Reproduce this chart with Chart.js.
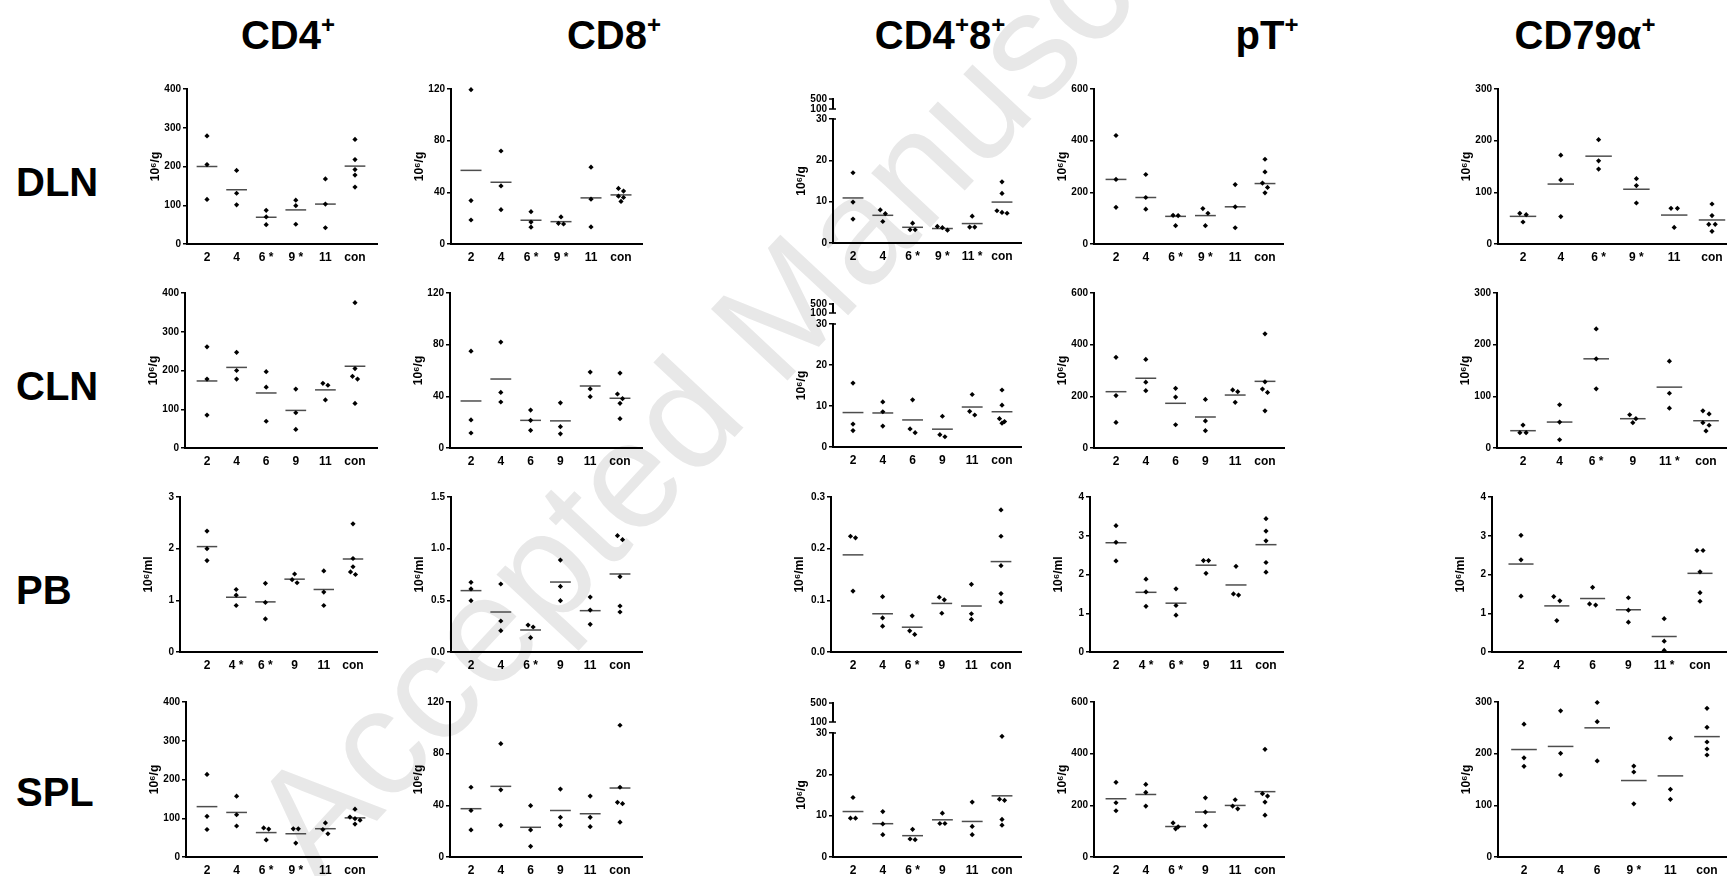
<!DOCTYPE html>
<html>
<head>
<meta charset="utf-8">
<script src="https://cdn.jsdelivr.net/npm/chart.js@4.4.1/dist/chart.umd.min.js"></script>
<style>
  body { margin: 0; width: 1727px; height: 876px; overflow: hidden; background: #fff; position: relative;
         font-family: "Liberation Sans", Arial, sans-serif; }
  canvas { position: absolute; }
  .title, .row { position: absolute; font-weight: bold; font-size: 40px; line-height: 1; white-space: nowrap; color: #000; }
  .title { transform: translateX(-50%); }
  sup { font-size: 0.6em; line-height: 0; vertical-align: 0.66em; }
  #wm { position: absolute; left: 0; top: 0; }
</style>
</head>
<body>
<svg id="wm" width="1727" height="876">
  <text x="318" y="884" transform="rotate(-47 318 884)" font-family="Liberation Sans, Arial, sans-serif"
        font-size="152" fill="#e8e8e8">Accepted Manuscript</text>
</svg>

<div class="title" style="left:288px;top:15px">CD4<sup>+</sup></div>
<div class="title" style="left:614px;top:15px">CD8<sup>+</sup></div>
<div class="title" style="left:940px;top:15px">CD4<sup>+</sup>8<sup>+</sup></div>
<div class="title" style="left:1267px;top:15px">pT<sup>+</sup></div>
<div class="title" style="left:1585px;top:15px">CD79α<sup>+</sup></div>

<div class="row" style="left:16px;top:162px">DLN</div>
<div class="row" style="left:16px;top:366px">CLN</div>
<div class="row" style="left:16px;top:570px">PB</div>
<div class="row" style="left:16px;top:772px">SPL</div>

<script>
// weeks after infection, plus control
const plainTicks = ['2', '4', '6', '9', '11', 'con'];

// ---- DLN ----
const cd4DLN = [[279, 205, 115], [190, 131, 101], [87, 70, 50], [113, 99, 51], [168, 103, 42], [270, 218, 192, 178, 147]];
const cd4DLNMean = [200, 140, 69, 88, 103, 201];
const cd4DLNTicks = ['2', '4', '6 *', '9 *', '11', 'con'];

const cd8DLN = [[119.5, 33.6, 18.6], [72, 45, 26.6], [25, 17, 13], [21, 16, 15.5], [59.5, 34.7, 13.2], [43, 41, 37, 36, 33]];
const cd8DLNMean = [57, 47.8, 18.4, 17.3, 35.7, 38];
const cd8DLNTicks = ['2', '4', '6 *', '9 *', '11', 'con'];

const dpDLN = [[17, 9.9, 5.8], [8, 7.1, 5.2], [4.8, 3.2, 3.2], [4.0, 3.7, 3.1], [6.5, 3.85, 3.85], [14.8, 12, 7.8, 7.4, 7.2]];
const dpDLNMean = [10.9, 6.7, 3.8, 3.5, 4.7, 9.9];
const dpDLNTicks = ['2', '4', '6 *', '9 *', '11 *', 'con'];

const ptDLN = [[420, 250, 142], [269, 180, 135], [111, 110, 71], [137, 119, 71], [230, 144, 63], [328, 279, 236, 219, 198]];
const ptDLNMean = [250, 180, 107, 110, 144, 234];
const ptDLNTicks = ['2', '4', '6 *', '9 *', '11', 'con'];

const cd79DLN = [[59.4, 56.8, 42.6], [172, 124, 53], [202, 161, 145], [126.5, 113, 79.4], [69, 69, 32], [77.4, 55, 38, 38, 24.5]];
const cd79DLNMean = [53.5, 116, 170, 106, 56, 46.5];
const cd79DLNTicks = ['2', '4', '6 *', '9 *', '11', 'con'];

// ---- CLN ----
const cd4CLN = [[261, 178, 85], [247, 200, 178], [197, 157, 69], [152, 91, 48], [167, 162, 124], [375, 205, 185, 178, 115]];
const cd4CLNMean = [173, 208, 142, 97, 150, 211];

const cd8CLN = [[75, 21.7, 11.6], [82, 43, 35.6], [29.4, 21.4, 13.7], [35, 16.5, 11], [58.8, 45.7, 39.7], [58, 41.8, 38.2, 34.6, 22.7]];
const cd8CLNMean = [36.4, 53.4, 21.4, 21, 48, 38.5];

const dpCLN = [[15.6, 5.6, 4.0], [11, 8.6, 5.1], [11.5, 4.4, 3.5], [7.5, 3.0, 2.5], [12.8, 8.7, 7.8], [13.9, 10.2, 6.9, 6.2, 5.8]];
const dpCLNMean = [8.4, 8.3, 6.6, 4.35, 9.75, 8.6];

const ptCLN = [[351, 203, 99], [343, 255, 222], [231, 197, 90], [188, 105, 67], [225, 218, 177], [442, 256, 228, 215, 144]];
const ptCLNMean = [218, 270, 173, 120, 205, 258];

const cd79CLN = [[44.4, 29.6, 29.6], [83.7, 50.2, 16], [230.5, 172.6, 114.6], [64.4, 56.7, 49], [168, 106, 77], [72, 66, 49, 44, 33]];
const cd79CLNMean = [33.5, 50.2, 172.6, 56.7, 117.8, 52.8];
const cd79CLNTicks = ['2', '4', '6 *', '9', '11 *', 'con'];

// ---- PB ----
const cd4PB = [[2.34, 2.0, 1.77], [1.21, 1.1, 0.9], [1.33, 0.96, 0.64], [1.51, 1.4, 1.34], [1.57, 1.16, 0.9], [2.48, 1.81, 1.65, 1.55, 1.5]];
const cd4PBMean = [2.04, 1.06, 0.97, 1.41, 1.21, 1.8];
const cd4PBTicks = ['2', '4 *', '6 *', '9', '11', 'con'];

const cd8PB = [[0.674, 0.61, 0.497], [0.658, 0.3, 0.206], [0.261, 0.242, 0.139], [0.89, 0.635, 0.497], [0.532, 0.406, 0.268], [1.126, 1.087, 0.729, 0.445, 0.387]];
const cd8PBMean = [0.594, 0.387, 0.213, 0.677, 0.4, 0.755];
const cd8PBTicks = ['2', '4', '6 *', '9', '11', 'con'];

const dpPB = [[0.224, 0.221, 0.118], [0.107, 0.066, 0.05], [0.07, 0.041, 0.034], [0.106, 0.101, 0.075], [0.131, 0.074, 0.063], [0.275, 0.224, 0.167, 0.113, 0.097]];
const dpPBMean = [0.188, 0.074, 0.048, 0.094, 0.089, 0.175];
const dpPBTicks = ['2', '4', '6 *', '9', '11', 'con'];

const ptPB = [[3.26, 2.83, 2.35], [1.88, 1.55, 1.18], [1.63, 1.2, 0.95], [2.36, 2.36, 2.03], [2.21, 1.5, 1.47], [3.44, 3.12, 2.87, 2.31, 2.06]];
const ptPBMean = [2.82, 1.54, 1.26, 2.24, 1.73, 2.77];
const ptPBTicks = ['2', '4 *', '6 *', '9', '11', 'con'];

const cd79PB = [[3.01, 2.38, 1.44], [1.43, 1.32, 0.81], [1.67, 1.24, 1.21], [1.4, 1.08, 0.77], [0.86, 0.28, 0.04], [2.62, 2.62, 2.07, 1.53, 1.31]];
const cd79PBMean = [2.27, 1.19, 1.38, 1.09, 0.4, 2.03];
const cd79PBTicks = ['2', '4', '6', '9', '11 *', 'con'];

// ---- SPL ----
const cd4SPL = [[213, 105, 71], [157, 109, 80], [75, 72, 44], [72.6, 72.6, 36], [88, 71, 60], [123.5, 103, 99, 95, 85]];
const cd4SPLMean = [130, 115, 63, 60, 73, 101];
const cd4SPLTicks = ['2', '4', '6 *', '9 *', '11', 'con'];

const cd8SPL = [[54, 36, 21], [87.7, 52, 24.5], [39.7, 21, 8.3], [52.6, 30.7, 24.5], [47.2, 30.7, 23.5], [102, 54, 42.3, 41.3, 27]];
const cd8SPLMean = [37.4, 54.7, 23, 36, 33.5, 53.4];

const dpSPL = [[14.4, 9.4, 9.4], [11, 8, 5.4], [6.7, 4.35, 4.2], [10.6, 8.1, 8.1], [13.3, 7.4, 5.4], [29.2, 14, 13.7, 9.1, 7.7]];
const dpSPLMean = [11, 8.06, 5.16, 9, 8.6, 14.8];
const dpSPLTicks = ['2', '4', '6 *', '9', '11', 'con'];

const ptSPL = [[289, 210, 179], [281, 250, 197], [132, 117, 109], [229, 174, 120.5], [221.6, 197, 186.6], [417, 245, 236, 212.5, 162]];
const ptSPLMean = [225.5, 242, 118, 174, 199.6, 253];
const ptSPLTicks = ['2', '4', '6 *', '9', '11', 'con'];

const cd79SPL = [[257, 192, 175.5], [283, 200.6, 158.7], [299, 262, 186], [176, 164.5, 103], [229.7, 131, 111.6], [287.7, 251, 222.6, 209, 197.4]];
const cd79SPLMean = [208, 214, 250, 148, 157, 233];
const cd79SPLTicks = ['2', '4', '6', '9 *', '11', 'con'];

// broken CD4+8+ axis: labels of the upper segment
const breakTicks = ['500', '100'];

// ---- layout (px in the 1727x876 page) ----
const rowY = [{ top: 89, zero: 244 }, { top: 293, zero: 448 }, { top: 497, zero: 652 }, { top: 702, zero: 857 }];
// [y axis x, axis right end, x of first group, x of "con"]
const colX = [
  [[187, 377, 207, 355], [451, 642, 471, 621], [833, 1021, 853, 1002], [1094, 1283, 1116, 1265], [1498, 1740, 1523, 1712]],
  [[185, 377, 207, 355], [450, 642, 471, 620], [833, 1021, 853, 1002], [1094, 1284, 1116, 1265], [1497, 1740, 1523, 1706]],
  [[180, 377, 207, 353], [451, 642, 471, 620], [831, 1021, 853, 1001], [1090, 1283, 1116, 1266], [1492, 1740, 1521, 1700]],
  [[186, 377, 207, 355], [450, 642, 471, 620], [833, 1021, 853, 1002], [1094, 1284, 1116, 1265], [1498, 1740, 1524, 1707]]
];
// y of the "30" tick and gaps up to "100" / "500" for the broken axes
const breakY = [{ top: 119.3, g100: 10, g500: 20 }, { top: 324.3, g100: 11, g500: 20 }, null, { top: 732.7, g100: 11, g500: 30 }];

const panels = [
  // row, col, values, means, ticks, yMax, step, decimals, unit
  [0, 0, cd4DLN, cd4DLNMean, cd4DLNTicks, 400, 100, 0, 'g'],
  [0, 1, cd8DLN, cd8DLNMean, cd8DLNTicks, 120, 40, 0, 'g'],
  [0, 2, dpDLN, dpDLNMean, dpDLNTicks, 30, 10, 0, 'g'],
  [0, 3, ptDLN, ptDLNMean, ptDLNTicks, 600, 200, 0, 'g'],
  [0, 4, cd79DLN, cd79DLNMean, cd79DLNTicks, 300, 100, 0, 'g'],
  [1, 0, cd4CLN, cd4CLNMean, plainTicks, 400, 100, 0, 'g'],
  [1, 1, cd8CLN, cd8CLNMean, plainTicks, 120, 40, 0, 'g'],
  [1, 2, dpCLN, dpCLNMean, plainTicks, 30, 10, 0, 'g'],
  [1, 3, ptCLN, ptCLNMean, plainTicks, 600, 200, 0, 'g'],
  [1, 4, cd79CLN, cd79CLNMean, cd79CLNTicks, 300, 100, 0, 'g'],
  [2, 0, cd4PB, cd4PBMean, cd4PBTicks, 3, 1, 0, 'ml'],
  [2, 1, cd8PB, cd8PBMean, cd8PBTicks, 1.5, 0.5, 1, 'ml'],
  [2, 2, dpPB, dpPBMean, dpPBTicks, 0.3, 0.1, 1, 'ml'],
  [2, 3, ptPB, ptPBMean, ptPBTicks, 4, 1, 0, 'ml'],
  [2, 4, cd79PB, cd79PBMean, cd79PBTicks, 4, 1, 0, 'ml'],
  [3, 0, cd4SPL, cd4SPLMean, cd4SPLTicks, 400, 100, 0, 'g'],
  [3, 1, cd8SPL, cd8SPLMean, plainTicks, 120, 40, 0, 'g'],
  [3, 2, dpSPL, dpSPLMean, dpSPLTicks, 30, 10, 0, 'g'],
  [3, 3, ptSPL, ptSPLMean, ptSPLTicks, 600, 200, 0, 'g'],
  [3, 4, cd79SPL, cd79SPLMean, cd79SPLTicks, 300, 100, 0, 'g']
];

const FONT = '"Liberation Sans", Arial, sans-serif';

// draws the short upper segment (100-500) of a broken y axis
const axisBreak = {
  id: 'axisBreak',
  afterDraw(chart, args, opts) {
    if (!opts.on) return;
    const { ctx, chartArea } = chart;
    const x = chartArea.left;
    const y100 = chartArea.top - opts.g100;
    const y500 = chartArea.top - opts.g500;
    ctx.save();
    ctx.strokeStyle = '#000';
    ctx.lineWidth = 2;
    ctx.beginPath();
    ctx.moveTo(x, y500 - 1);
    ctx.lineTo(x, y100);
    ctx.stroke();
    ctx.lineWidth = 1.5;
    ctx.beginPath();
    ctx.moveTo(x - 4, y500); ctx.lineTo(x, y500);
    ctx.moveTo(x - 4, y100); ctx.lineTo(x + 3, y100);
    ctx.moveTo(x, chartArea.top); ctx.lineTo(x + 3, chartArea.top);
    ctx.stroke();
    ctx.fillStyle = '#000';
    ctx.font = 'bold 10px ' + FONT;
    ctx.textAlign = 'right';
    ctx.textBaseline = 'middle';
    ctx.fillText(breakTicks[0], x - 6, y500);
    ctx.fillText(breakTicks[1], x - 6, y100);
    ctx.restore();
  }
};

// spread points that would overlap side by side, like the scatter dot plot
function spreadPoints(values, yMax) {
  const thr = yMax * 0.033, d = 0.17, pts = [];
  values.forEach((vals, i) => {
    const s = vals.slice().sort((a, b) => b - a);
    let k = 0;
    while (k < s.length) {
      let j = k + 1;
      while (j < s.length && s[k] - s[j] < thr) j++;
      const n = j - k;
      for (let m = 0; m < n; m++) pts.push({ x: i + (m - (n - 1) / 2) * d, y: s[k + m] });
      k = j;
    }
  });
  return pts;
}

const YW = 46, XH = 26, PR = 4;

panels.forEach(([r, c, vals, means, ticks, yMax, step, dec, unit]) => {
  const [axisX, right, c0, c5] = colX[r][c];
  const brk = (c === 2 && breakY[r]) ? breakY[r] : null;
  const topY = brk ? brk.top : rowY[r].top;
  const zeroY = rowY[r].zero;
  const padTop = brk ? brk.g500 + 9 : 10;
  const W = right - axisX + YW + PR;
  const H = zeroY - topY + padTop + XH;
  const u = (c5 - c0) / 5;

  const cv = document.createElement('canvas');
  cv.width = W; cv.height = H;
  cv.style.left = (axisX - YW) + 'px';
  cv.style.top = (topY - padTop) + 'px';
  document.body.appendChild(cv);

  const datasets = [{
    data: spreadPoints(vals, yMax),
    pointStyle: 'rectRot',
    pointRadius: 2.6,
    backgroundColor: '#000',
    borderWidth: 0,
    clip: false,
    order: 0
  }];
  means.forEach((m, i) => {
    datasets.push({
      data: [{ x: i - 0.35, y: m }, { x: i + 0.35, y: m }],
      showLine: true,
      borderColor: '#4d4d4d',
      borderWidth: 1.5,
      pointRadius: 0,
      clip: false,
      order: 1
    });
  });

  new Chart(cv, {
    type: 'scatter',
    data: { datasets: datasets },
    plugins: [axisBreak],
    options: {
      responsive: false,
      animation: false,
      devicePixelRatio: 1,
      events: [],
      layout: { padding: { top: padTop, right: PR, left: 0, bottom: 0 } },
      plugins: {
        legend: { display: false },
        tooltip: { enabled: false },
        axisBreak: brk ? { on: true, g100: brk.g100, g500: brk.g500 } : { on: false }
      },
      scales: {
        x: {
          type: 'linear',
          min: (axisX - c0) / u,
          max: (right - c0) / u,
          bounds: 'data',
          afterBuildTicks: s => { s.ticks = [0, 1, 2, 3, 4, 5].map(v => ({ value: v })); },
          afterFit: s => { s.height = XH; },
          grid: { display: false, drawTicks: false },
          border: { display: true, color: '#000', width: 2 },
          ticks: {
            autoSkip: false, maxRotation: 0, padding: 6, color: '#000',
            font: { family: FONT, size: 12, weight: 'bold' },
            callback: v => ticks[v]
          }
        },
        y: {
          min: 0,
          max: yMax,
          afterFit: s => { s.width = YW; },
          grid: { drawOnChartArea: false, drawTicks: true, tickLength: 4, color: '#000', lineWidth: 1.5 },
          border: { display: true, color: '#000', width: 2 },
          ticks: {
            stepSize: step, padding: 2, color: '#000',
            font: { family: FONT, size: 10, weight: 'bold' },
            callback: v => v.toFixed(dec)
          },
          title: {
            display: true,
            text: '10⁶/' + unit,
            color: '#000',
            padding: { top: 7, bottom: 0 },
            font: { family: FONT, size: 12, weight: 'bold' }
          }
        }
      }
    }
  });
});
</script>
</body>
</html>
